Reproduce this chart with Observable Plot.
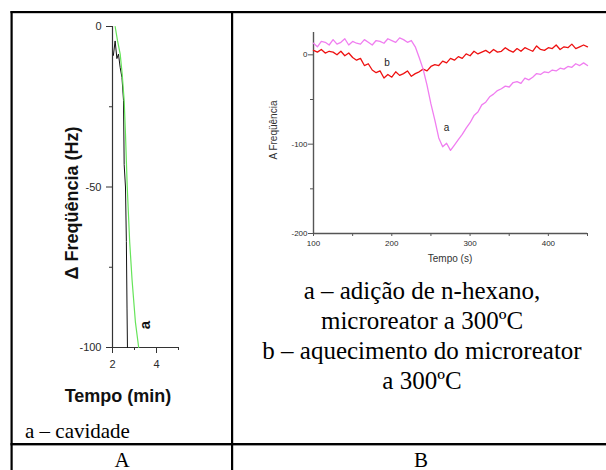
<!DOCTYPE html>
<html><head><meta charset="utf-8">
<script src="https://cdn.jsdelivr.net/npm/d3@7"></script>
<script src="https://cdn.jsdelivr.net/npm/@observablehq/plot@0.6"></script>
<style>
body{margin:0;background:#fff;}
#page{position:relative;width:606px;height:470px;overflow:hidden;background:#fff;}
#page svg{position:absolute;left:0;top:0;}
</style></head>
<body><div id="page"></div>
<script>
// ---------- Panel A data (Tempo in min, Δ Freqüência in Hz) ----------
const timeA_black = [2.04, 2.12, 2.20, 2.27, 2.35, 2.43, 2.50, 2.53, 2.59, 2.63, 2.66, 2.68];
const freqA_black = [-9, -4.5, -10, -8.6, -12.8, -15.9, -23, -43, -50, -67, -88, -100];
const timeA_green = [2.12, 2.23, 2.35, 2.44, 2.53, 2.59, 2.67, 2.78, 2.89, 3.04, 3.19];
const freqA_green = [0, -4.5, -8.6, -14.8, -23, -33.5, -50, -67, -79, -92, -100];
const ticksA_x = [2, 4];
const minorA_x = [3, 5];
const ticksA_y = [0, -50, -100];
const minorA_y = [-25, -75];

// ---------- Panel B data (Tempo in s, Δ Freqüência) ----------
const timeB = [100,105,110,115,120,125,130,135,140,145,150,155,160,165,170,175,180,185,190,195,
  200,205,210,215,220,225,230,235,240,245,250,255,260,265,270,275,280,285,290,295,
  300,305,310,315,320,325,330,335,340,345,350,355,360,365,370,375,380,385,390,395,
  400,405,410,415,420,425,430,435,440,445,450];
const freqB_a = [13,9,15,14,11,17,12,14,18,11,
  15,13,12,17,14,11,16,15,13,18,
  16,14,19,17,14,16,9,-3,-16,-34,
  -55,-73,-93,-103,-99,-107,-101,-95,-89,-82,
  -76,-68,-64,-56,-53,-47,-44,-40,-38,-35,
  -36,-31,-30,-32,-26,-28,-25,-21,-22,-19,
  -20,-17,-18,-15,-16,-13,-14,-10,-12,-9,
  -12];
const freqB_b = [5,3,6,2,4,3,0,4,-1,2,
  -3,-6,-4,-12,-10,-17,-20,-18,-26,-22,
  -25,-19,-23,-21,-18,-24,-21,-19,-16,-18,
  -13,-11,-12,-7,-9,-4,-6,-2,-4,1,
  -1,4,1,3,5,2,6,3,4,8,
  5,3,7,4,8,6,4,10,6,5,
  8,7,11,6,9,8,12,7,9,11,
  9];
const ticksB_x = [100, 200, 300, 400];
const minorB_x = [150, 250, 350, 450];
const ticksB_y = [0, -100, -200];
const minorB_y = [-50, -150];
const labelsB = [{t: 194, f: -9, s: "b"}, {t: 270, f: -82, s: "a"}];

const page = document.getElementById("page");
const fmt = d => String(d);
const baseStyle = {background: "none", overflow: "visible", fontFamily: "'Liberation Sans', Arial, sans-serif", color: "#2a2a2a"};

// ---------- Panel A ----------
const plotA = Plot.plot({
  width: 232, height: 400,
  marginLeft: 112, marginRight: 54, marginTop: 26, marginBottom: 53,
  style: baseStyle,
  x: {domain: [2, 5], axis: null},
  y: {domain: [-100, 0], axis: null},
  marks: [
    Plot.ruleX([2], {y1: -100, y2: 0, stroke: "#333", strokeWidth: 1.2}),
    Plot.ruleY([-100], {x1: 2, x2: 5, stroke: "#333", strokeWidth: 1.2}),
    Plot.axisY(ticksA_y, {tickSize: 6, tickPadding: 5, fontSize: 11, tickFormat: fmt, label: null, stroke: "#333"}),
    Plot.axisY(minorA_y, {tickSize: 3, tickFormat: () => "", label: null, stroke: "#333"}),
    Plot.axisX(ticksA_x, {tickSize: 6, tickPadding: 7, fontSize: 11, tickFormat: fmt, label: null, stroke: "#333"}),
    Plot.axisX(minorA_x, {tickSize: 3, tickFormat: () => "", label: null, stroke: "#333"}),
    Plot.line(timeA_black.map((t, i) => ({t, f: freqA_black[i]})), {x: "t", y: "f", stroke: "#111", strokeWidth: 1}),
    Plot.line(timeA_green.map((t, i) => ({t, f: freqA_green[i]})), {x: "t", y: "f", stroke: "#66e45a", strokeWidth: 1.2}),
    Plot.text([{t: 3.49, f: -93}], {x: "t", y: "f", text: () => "a", rotate: -90, fontSize: 15, fontWeight: "bold", fill: "#111"})
  ]
});

// ---------- Panel B ----------
const rowsB = timeB.map((t, i) => ({t, a: freqB_a[i], b: freqB_b[i]}));
const plotB = Plot.plot({
  width: 606, height: 470,
  marginLeft: 313, marginRight: 19, marginTop: 32, marginBottom: 237,
  style: baseStyle,
  x: {domain: [100, 450], axis: null},
  y: {domain: [-200, 25], axis: null},
  marks: [
    Plot.ruleX([100], {y1: -200, y2: 25, stroke: "#555", strokeWidth: 1.4}),
    Plot.ruleY([-200], {x1: 100, x2: 450, stroke: "#555", strokeWidth: 1.4}),
    Plot.axisY(ticksB_y, {tickSize: 5, tickPadding: 1, fontSize: 8, tickFormat: fmt, label: null, stroke: "#555"}),
    Plot.axisY(minorB_y, {tickSize: 3, tickFormat: () => "", label: null, stroke: "#555"}),
    Plot.axisX(ticksB_x, {tickSize: 3, tickPadding: 4, fontSize: 8, tickFormat: fmt, label: null, stroke: "#555"}),
    Plot.axisX(minorB_x, {tickSize: 3, tickFormat: () => "", label: null, stroke: "#555"}),
    Plot.line(rowsB, {x: "t", y: "b", stroke: "#ee1111", strokeWidth: 1.3}),
    Plot.line(rowsB, {x: "t", y: "a", stroke: "#f07ef0", strokeWidth: 1.3}),
    Plot.text(labelsB, {x: "t", y: "f", text: "s", fontSize: 10, fill: "#222"})
  ]
});

page.appendChild(plotA);
page.appendChild(plotB);

// ---------- table frame and texts ----------
const NS = "http://www.w3.org/2000/svg";
const ov = document.createElementNS(NS, "svg");
ov.setAttribute("width", 606); ov.setAttribute("height", 470);
ov.innerHTML = `
  <rect x="10.5" y="11" width="596" height="2.2" fill="#000"/>
  <rect x="10.5" y="11" width="2.2" height="459" fill="#000"/>
  <rect x="231" y="11" width="2.2" height="459" fill="#000"/>
  <rect x="10.5" y="443" width="596" height="2.4" fill="#000"/>
  <g font-family="'Liberation Sans', Arial, sans-serif" fill="#111">
    <text transform="translate(78,203) rotate(-90)" text-anchor="middle" font-size="18" font-weight="bold">Δ Freqüência (Hz)</text>
    <text x="118" y="402" text-anchor="middle" font-size="18" font-weight="bold">Tempo (min)</text>
    <text transform="translate(277,130) rotate(-90)" text-anchor="middle" font-size="10" fill="#333">A Freqüência</text>
    <text x="450" y="262" text-anchor="middle" font-size="10" fill="#333">Tempo (s)</text>
  </g>
  <g font-family="'Liberation Serif', 'Times New Roman', serif" fill="#000">
    <text x="25" y="438" font-size="21">a – cavidade</text>
    <text x="122" y="467" text-anchor="middle" font-size="21">A</text>
    <text x="421" y="467" text-anchor="middle" font-size="21">B</text>
    <text x="422" y="299" text-anchor="middle" font-size="25">a – adição de n-hexano,</text>
    <text x="422" y="329" text-anchor="middle" font-size="25">microreator a 300ºC</text>
    <text x="422" y="359" text-anchor="middle" font-size="25">b – aquecimento do microreator</text>
    <text x="422" y="389" text-anchor="middle" font-size="25">a 300ºC</text>
  </g>`;
page.appendChild(ov);
</script>
</body></html>
